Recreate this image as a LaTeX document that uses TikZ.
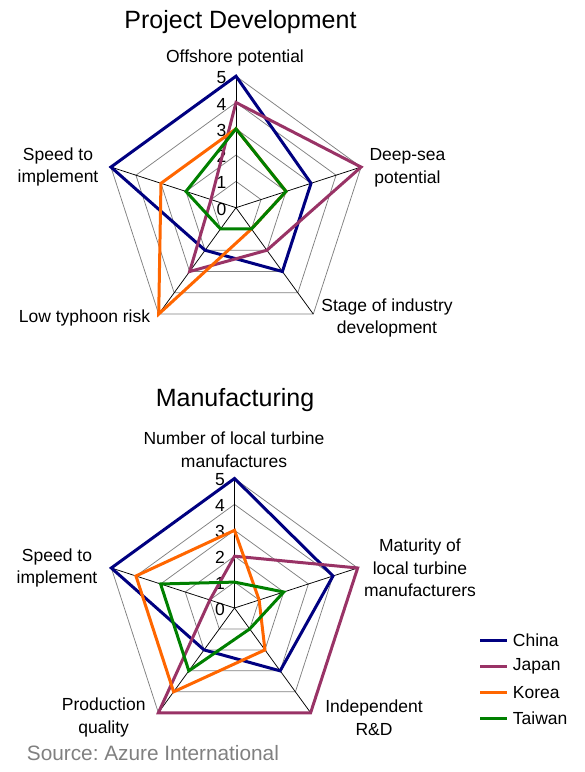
\documentclass[tikz,border=0pt]{standalone}
\usepackage{fontspec}
\setmainfont{Liberation Sans}
\usepackage{tikz}
\usetikzlibrary{calc}

\definecolor{chinablue}{RGB}{0,0,128}
\definecolor{japanplum}{RGB}{153,51,102}
\definecolor{koreaorange}{RGB}{255,102,0}
\definecolor{taiwangreen}{RGB}{0,128,0}
\definecolor{sourcegray}{RGB}{128,128,128}

\begin{document}
\begin{tikzpicture}[
        x=1pt, y=1pt,
        grid ring/.style={draw=gray, line width=0.75pt},
        spoke/.style={draw=black, line width=0.75pt},
        series/.style={line width=3pt, line join=miter},
        china/.style={series, draw=chinablue},
        japan/.style={series, draw=japanplum},
        korea/.style={series, draw=koreaorange},
        taiwan/.style={series, draw=taiwangreen},
        axis label/.style={align=center, inner sep=0pt, font=\fontsize{17.5}{22.5}\selectfont},
        tick label/.style={anchor=east, inner sep=0pt, font=\fontsize{17.5}{21}\selectfont},
        chart title/.style={inner sep=0pt, font=\fontsize{25}{30}\selectfont},
        legend text/.style={anchor=west, inner sep=0pt, font=\fontsize{17.5}{21}\selectfont}
        ]
        \useasboundingbox (0,0) rectangle (585,772);

        \coordinate (pd) at (236,564.3);
        \coordinate (mf) at (234.5,164);

        % Grid, spokes and scale of both charts
        \foreach \c/\u in {pd/26.3, mf/25.9} {
            \foreach \l in {1,...,5}
                \draw[grid ring] ($(\c)+(90:\l*\u)$)
                    \foreach \k in {1,...,4} { -- ($(\c)+(90-72*\k:\l*\u)$) } -- cycle;
            \foreach \k in {0,...,4}
                \draw[spoke] (\c) -- ($(\c)+(90-72*\k:5*\u)$);
            \foreach \l in {0,...,5}
                \node[tick label] (\c-tick-\l) at ($(\c)+(-9.4,\l*\u-1.5)$) {\l};
        }

        % Project Development
        \node[chart title] (pd-title) at (240.5,750) {Project Development};
        \node[axis label] (pd-offshore) at (235,713.7) {Offshore potential};
        \node[axis label] (pd-deepsea) at (407.5,604.3) {Deep-sea\\potential};
        \node[axis label] (pd-stage) at (387,454) {Stage of industry\\development};
        \node[axis label] (pd-typhoon) at (84.5,453.7) {Low typhoon risk};
        \node[axis label] (pd-speed) at (58,605) {Speed to\\implement};
        \foreach \s/\vals in {china/{5,3,3,2,5}, japan/{4,5,2,3,1},
                korea/{3,2,1,5,3}, taiwan/{3,2,1,1,2}} {
            \foreach \v [count=\k from 0] in \vals
                \coordinate (pd-\s-\k) at ($(pd)+(90-72*\k:\v*26.3)$);
            \draw[\s] (pd-\s-0) -- (pd-\s-1) -- (pd-\s-2) -- (pd-\s-3) -- (pd-\s-4) -- cycle;
        }

        % Manufacturing
        \node[chart title] (mf-title) at (235,372) {Manufacturing};
        \node[axis label] (mf-number) at (234,322.5) {Number of local turbine\\manufactures};
        \node[axis label] (mf-maturity) at (420,204) {Maturity of\\local turbine\\manufacturers};
        \node[axis label] (mf-rnd) at (374,54.3) {Independent\\R\&D};
        \node[axis label] (mf-quality) at (103.7,54.3) {Production\\quality};
        \node[axis label] (mf-speed) at (57,204) {Speed to\\implement};
        \foreach \s/\vals in {china/{5,4,3,2,5}, japan/{2,5,5,5,1},
                korea/{3,1,2,4,4}, taiwan/{1,2,1,3,3}} {
            \foreach \v [count=\k from 0] in \vals
                \coordinate (mf-\s-\k) at ($(mf)+(90-72*\k:\v*25.9)$);
            \draw[\s] (mf-\s-0) -- (mf-\s-1) -- (mf-\s-2) -- (mf-\s-3) -- (mf-\s-4) -- cycle;
        }

        % Legend
        \foreach \s/\name [count=\i] in {china/China, japan/Japan, korea/Korea, taiwan/Taiwan} {
            \node[legend text] (legend-\s) at (512.7,157.2-25.9*\i) {\name};
            \coordinate (legend-\s-start) at (480,157.2-25.9*\i);
            \draw[\s] (legend-\s-start) -- (legend-\s.west -| 507.3,0);
        }

        \node[anchor=west, inner sep=0pt, text=sourcegray, font=\fontsize{20.8}{24}\selectfont]
            (source) at (26.7,18.7) {Source:\ Azure International};
    \end{tikzpicture}
\end{document}
